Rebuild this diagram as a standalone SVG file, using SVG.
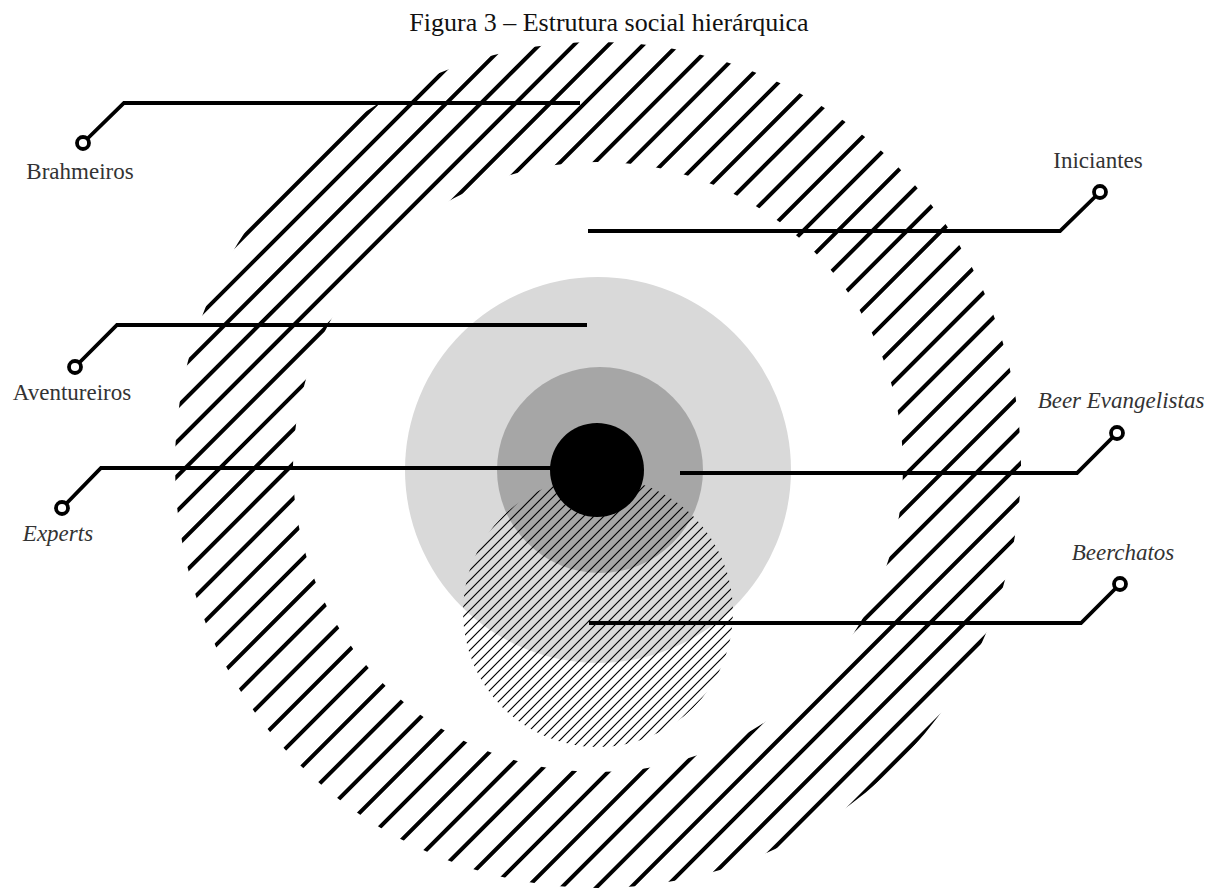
<svg xmlns="http://www.w3.org/2000/svg" width="1210" height="890" viewBox="0 0 1210 890">
<style>
.title{font-family:"Liberation Serif","Times New Roman",serif;font-size:26px;fill:#111;text-anchor:middle}
.lbl{font-family:"Liberation Serif","Times New Roman",serif;font-size:23px;fill:#333;text-anchor:middle}
.it{font-style:italic}
.conn{fill:none;stroke:#000;stroke-width:3.8;stroke-linejoin:miter}
.pin{fill:#fff;stroke:#000;stroke-width:3.8}
.stripe{fill:none;stroke:#000;stroke-width:4}
</style>
<defs>
<clipPath id="ringClip">
<path clip-rule="evenodd" d="M175 465 A423 423 0 1 0 1021 465 A423 423 0 1 0 175 465 Z M293 467 A305 305 0 1 0 903 467 A305 305 0 1 0 293 467 Z"/>
</clipPath>
<pattern id="fineHatch" patternUnits="userSpaceOnUse" width="10" height="10">
<path d="M-1 1 L1 -1 M0 10 L10 0 M9 11 L11 9" stroke="#000" stroke-width="1.2" fill="none"/>
</pattern>
</defs>
<rect width="1210" height="890" fill="#fff"/>
<text class="title" x="609" y="31">Figura 3 – Estrutura social hierárquica</text>

<g id="ring-brahmeiros" clip-path="url(#ringClip)">
<path class="stripe" d="M-409.6 890 L480.4 0 M-375 890 L515 0 M-340.4 890 L549.6 0 M-305.8 890 L584.2 0 M-271.2 890 L618.8 0 M-236.6 890 L653.4 0 M-202 890 L688 0 M-167.4 890 L722.6 0 M-132.8 890 L757.2 0 M-98.2 890 L791.8 0 M-63.6 890 L826.4 0 M-29 890 L861 0 M5.6 890 L895.6 0 M40.2 890 L930.2 0 M74.8 890 L964.8 0 M109.4 890 L999.4 0 M144 890 L1034 0 M178.6 890 L1068.6 0 M213.2 890 L1103.2 0 M247.8 890 L1137.8 0 M282.4 890 L1172.4 0 M317 890 L1207 0 M351.6 890 L1241.6 0 M386.2 890 L1276.2 0 M420.8 890 L1310.8 0 M455.4 890 L1345.4 0 M490 890 L1380 0 M524.6 890 L1414.6 0 M559.2 890 L1449.2 0 M593.8 890 L1483.8 0 M628.4 890 L1518.4 0 M663 890 L1553 0 M697.6 890 L1587.6 0 M732.2 890 L1622.2 0 M766.8 890 L1656.8 0"/>
</g>

<g id="level-aventureiros"><circle cx="598" cy="470" r="193" fill="#d9d9d9"/></g>
<g id="level-evangelistas"><circle cx="600" cy="470" r="103" fill="#a6a6a6"/></g>
<g id="level-beerchatos"><circle cx="598" cy="612" r="135" fill="url(#fineHatch)"/></g>
<g id="level-experts"><circle cx="597" cy="470" r="47" fill="#000"/></g>

<g id="connectors">
<path class="conn" d="M83 143 L124 103 L580 103"/>
<path class="conn" d="M1100 192 L1060 231 L588 231"/>
<path class="conn" d="M75 367 L117 325 L587 325"/>
<path class="conn" d="M62 508 L101 468 L552 468"/>
<path class="conn" d="M1117 433 L1077 473 L680 473"/>
<path class="conn" d="M1120 584 L1081 623 L589 623"/>
</g>

<g id="label-brahmeiros"><circle class="pin" cx="83" cy="143" r="6"/><text class="lbl" x="80" y="179">Brahmeiros</text></g>
<g id="label-iniciantes"><circle class="pin" cx="1100" cy="192" r="6"/><text class="lbl" x="1098" y="168">Iniciantes</text></g>
<g id="label-aventureiros"><circle class="pin" cx="75" cy="367" r="6"/><text class="lbl" x="72" y="400">Aventureiros</text></g>
<g id="label-experts"><circle class="pin" cx="62" cy="508" r="6"/><text class="lbl it" x="58" y="541">Experts</text></g>
<g id="label-beer-evangelistas"><circle class="pin" cx="1117" cy="433" r="6"/><text class="lbl it" x="1121" y="408">Beer Evangelistas</text></g>
<g id="label-beerchatos"><circle class="pin" cx="1120" cy="584" r="6"/><text class="lbl it" x="1123" y="560">Beerchatos</text></g>
</svg>
